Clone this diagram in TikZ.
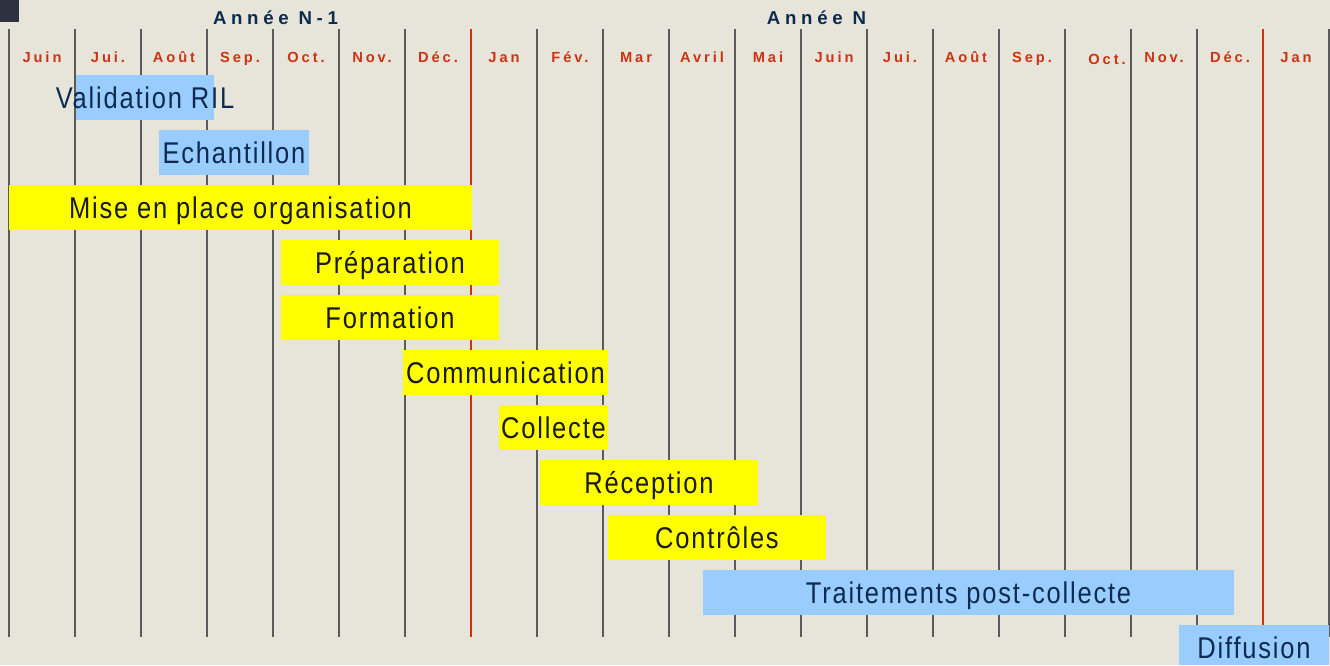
\documentclass[tikz,border=0pt]{standalone}
\usepackage{fontspec}
\usepackage{xcolor}
\setmainfont{Liberation Sans}
\newfontfamily\barfont[FakeStretch=0.85,LetterSpace=6]{Liberation Sans}
\newfontfamily\monthfont[LetterSpace=20]{Liberation Sans}
\newfontfamily\yearfont[LetterSpace=25]{Liberation Sans}
\definecolor{PlanBack}{HTML}{E7E5DA}
\definecolor{PlanCorner}{HTML}{2E3140}
\definecolor{PlanGrid}{HTML}{5A5A5A}
\definecolor{PlanRed}{HTML}{CC3311}
\definecolor{PlanNavy}{HTML}{0D2B4E}
\definecolor{PlanBlue}{HTML}{99CCFF}
\definecolor{PlanYellow}{HTML}{FFFF00}
\definecolor{PlanInk}{HTML}{1A1A1A}
\tikzset{
  gridline/.style={PlanGrid,line width=1.5pt},
  yearline/.style={PlanRed,line width=1.3pt},
  monthlabel/.style={anchor=base,inner sep=0pt,text=PlanRed,font=\monthfont\bfseries\fontsize{11}{13}\selectfont},
  yearlabel/.style={anchor=base,inner sep=0pt,text=PlanNavy,font=\yearfont\bfseries\fontsize{14}{16}\selectfont},
  bartext/.style={anchor=base,inner sep=0pt,font=\barfont\fontsize{22.5}{26}\selectfont}
}

\begin{document}
\begin{tikzpicture}[x=0.75pt,y=-0.75pt]
\path[use as bounding box] (0,0) rectangle (1330,665);
\fill[PlanBack] (0,0) rectangle (1330,665);
\fill[PlanCorner] (0,0) rectangle (19,22);
% month grid
\draw[gridline] (9,29) -- (9,637);
\draw[gridline] (75,29) -- (75,637);
\draw[gridline] (141,29) -- (141,637);
\draw[gridline] (207,29) -- (207,637);
\draw[gridline] (273,29) -- (273,637);
\draw[gridline] (339,29) -- (339,637);
\draw[gridline] (405,29) -- (405,637);
\draw[yearline] (471,29) -- (471,637);
\draw[gridline] (537,29) -- (537,637);
\draw[gridline] (603,29) -- (603,637);
\draw[gridline] (669,29) -- (669,637);
\draw[gridline] (735,29) -- (735,637);
\draw[gridline] (801,29) -- (801,637);
\draw[gridline] (867,29) -- (867,637);
\draw[gridline] (933,29) -- (933,637);
\draw[gridline] (999,29) -- (999,637);
\draw[gridline] (1065,29) -- (1065,637);
\draw[gridline] (1131,29) -- (1131,637);
\draw[gridline] (1197,29) -- (1197,637);
\draw[yearline] (1263,29) -- (1263,637);
\draw[gridline] (1329,29) -- (1329,637);
% years
\node[yearlabel] (yearprev) at (275.5,24) {Année N-1};
\node[yearlabel] (yearcur) at (816.5,24) {Année N};
% months
\node[monthlabel] (m1) at (42,62.3) {Juin};
\node[monthlabel] (m2) at (108,62.3) {Jui.};
\node[monthlabel] (m3) at (174,62.3) {Août};
\node[monthlabel] (m4) at (240,62.3) {Sep.};
\node[monthlabel] (m5) at (306,62.3) {Oct.};
\node[monthlabel] (m6) at (372,62.3) {Nov.};
\node[monthlabel] (m7) at (438,62.3) {Déc.};
\node[monthlabel] (m8) at (504,62.3) {Jan};
\node[monthlabel] (m9) at (570,62.3) {Fév.};
\node[monthlabel] (m10) at (636,62.3) {Mar};
\node[monthlabel] (m11) at (702,62.3) {Avril};
\node[monthlabel] (m12) at (768,62.3) {Mai};
\node[monthlabel] (m13) at (834,62.3) {Juin};
\node[monthlabel] (m14) at (900,62.3) {Jui.};
\node[monthlabel] (m15) at (966,62.3) {Août};
\node[monthlabel] (m16) at (1032,62.3) {Sep.};
\node[monthlabel] (m17) at (1107,64) {Oct.};
\node[monthlabel] (m18) at (1164,62.3) {Nov.};
\node[monthlabel] (m19) at (1230,62.3) {Déc.};
\node[monthlabel] (m20) at (1296,62.3) {Jan};
% tasks
\fill[PlanBlue] (76,75) rectangle (214,120);
\node[bartext,text=PlanNavy] (valid) at (145,108.3) {Validation RIL};
\fill[PlanBlue] (159,130) rectangle (309,175);
\node[bartext,text=PlanNavy] (echant) at (234,163.3) {Echantillon};
\fill[PlanYellow] (9,185) rectangle (472,230);
\node[bartext,text=PlanInk] (orga) at (240.5,218.3) {Mise en place organisation};
\fill[PlanYellow] (281,240) rectangle (499,285);
\node[bartext,text=PlanInk] (prepa) at (390,273.3) {Préparation};
\fill[PlanYellow] (281,295) rectangle (499,340);
\node[bartext,text=PlanInk] (forma) at (390,328.3) {Formation};
\fill[PlanYellow] (403,350) rectangle (608,395);
\node[bartext,text=PlanInk] (commu) at (505.5,383.3) {Communication};
\fill[PlanYellow] (499,405) rectangle (608,450);
\node[bartext,text=PlanInk] (collec) at (553.5,438.3) {Collecte};
\fill[PlanYellow] (540,460) rectangle (758,505);
\node[bartext,text=PlanInk] (recep) at (649,493.3) {Réception};
\fill[PlanYellow] (608,515) rectangle (826,560);
\node[bartext,text=PlanInk] (contr) at (717,548.3) {Contrôles};
\fill[PlanBlue] (703,570) rectangle (1234,615);
\node[bartext,text=PlanNavy] (trait) at (968.5,603.3) {Traitements post-collecte};
\fill[PlanBlue] (1179,625) rectangle (1329,665);
\node[bartext,text=PlanNavy] (diffu) at (1254,658.3) {Diffusion};
\end{tikzpicture}
\end{document}
